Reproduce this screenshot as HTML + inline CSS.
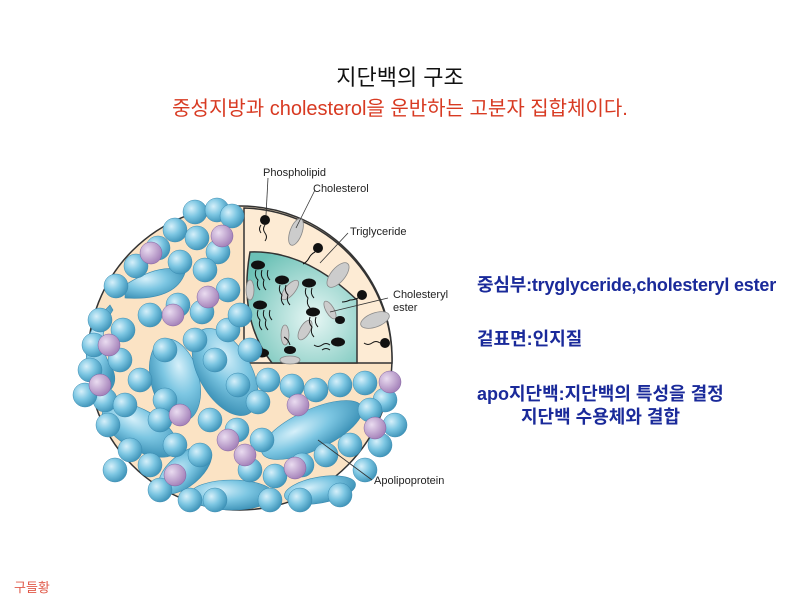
<!DOCTYPE html>
<html><head><meta charset="utf-8"><style>
body{margin:0;width:800px;height:600px;background:#fff;position:relative;overflow:hidden;font-family:"Liberation Sans","Noto Sans CJK KR",sans-serif}
.t{position:absolute;white-space:nowrap}
.bl circle{r:12px}
.pl circle{r:11px}
</style></head><body>
<div class="t" style="left:0;width:800px;text-align:center;top:60px;font-size:22px;color:#111">지단백의 구조</div>
<div class="t" style="left:0;width:800px;text-align:center;top:92px;font-size:20px;color:#d83a22">중성지방과 cholesterol을 운반하는 고분자 집합체이다.</div>
<div class="t" style="left:477px;top:271px;font-size:18px;font-weight:bold;color:#1a2a9a;letter-spacing:-0.2px">중심부:tryglyceride,cholesteryl ester</div>
<div class="t" style="left:477px;top:325px;font-size:18px;font-weight:bold;color:#1a2a9a">겉표면:인지질</div>
<div class="t" style="left:477px;top:380px;font-size:18px;font-weight:bold;color:#1a2a9a">apo지단백:지단백의 특성을 결정</div>
<div class="t" style="left:521px;top:403px;font-size:18px;font-weight:bold;color:#1a2a9a">지단백 수용체와 결합</div>
<div class="t" style="left:14px;top:577px;font-size:13px;color:#e05a4a">구들황</div>
<svg width="800" height="600" style="position:absolute;left:0;top:0">
<defs>
<radialGradient id="b" cx="0.35" cy="0.35" r="0.7"><stop offset="0" stop-color="#d6f0fa"/><stop offset="0.5" stop-color="#7cc6e2"/><stop offset="1" stop-color="#3e93b8"/></radialGradient>
<radialGradient id="p" cx="0.35" cy="0.35" r="0.7"><stop offset="0" stop-color="#eadcf0"/><stop offset="1" stop-color="#a27fb8"/></radialGradient>
<radialGradient id="c" cx="0.6" cy="0.6" r="0.7"><stop offset="0" stop-color="#e8f7f5"/><stop offset="1" stop-color="#6cc1b6"/></radialGradient>
</defs>
<circle cx="240" cy="358" r="152" fill="#fbe3c4" stroke="#333" stroke-width="1.5"/>
<path d="M244,208 L244,363 L392,363 A152,152 0 0 0 244,208 Z" fill="#fdebd4" stroke="#333" stroke-width="1.5"/>
<path d="M250,252 Q305,250 357,300 L357,363 L272,363 Q238,320 250,252 Z" fill="url(#c)" stroke="#333" stroke-width="1.5"/>
<g fill="#ccc" stroke="#888" stroke-width="0.8">
<ellipse cx="296" cy="232" rx="6" ry="14" transform="rotate(20 296 232)"/>
<ellipse cx="338" cy="275" rx="7" ry="15" transform="rotate(40 338 275)"/>
<ellipse cx="375" cy="320" rx="7" ry="15" transform="rotate(70 375 320)"/>
<ellipse cx="290" cy="290" rx="5" ry="12" transform="rotate(40 290 290)"/>
<ellipse cx="250" cy="290" rx="4" ry="10"/>
<ellipse cx="305" cy="330" rx="5" ry="11" transform="rotate(30 305 330)"/>
<ellipse cx="330" cy="310" rx="4" ry="10" transform="rotate(-30 330 310)"/>
<ellipse cx="285" cy="335" rx="4" ry="10"/>
<ellipse cx="290" cy="360" rx="10" ry="4"/>
</g>
<g fill="#111">
<circle cx="265" cy="220" r="5"/><circle cx="318" cy="248" r="5"/><circle cx="362" cy="295" r="5"/><circle cx="385" cy="343" r="5"/>
<ellipse cx="258" cy="265" rx="7" ry="4.5"/><ellipse cx="282" cy="280" rx="7" ry="4.5"/><ellipse cx="309" cy="283" rx="7" ry="4.5"/>
<ellipse cx="260" cy="305" rx="7" ry="4.5"/><ellipse cx="313" cy="312" rx="7" ry="4.5"/><ellipse cx="338" cy="342" rx="7" ry="4.5"/>
<ellipse cx="290" cy="350" rx="6" ry="4"/><ellipse cx="262" cy="353" rx="7" ry="4.5"/><ellipse cx="340" cy="320" rx="5" ry="4"/>
</g>
<g stroke="#111" stroke-width="1" fill="none">
<path d="M265,225 q-3,4 0,8 q3,4 0,8 M261,225 q-3,4 0,8"/><path d="M315,252 q-4,2 -6,6 q-2,4 -6,6"/><path d="M358,298 q-4,2 -8,2 q-4,2 -8,2"/><path d="M380,343 q-4,-3 -8,0 q-4,3 -8,0"/>
<path d="M256,270 q-2,6 2,10 q-2,6 2,10 M262,270 q-2,6 2,10 q-2,6 2,10 M268,270 q-2,6 2,10"/>
<path d="M280,285 q-2,6 2,10 q-2,6 2,10 M286,285 q-2,6 2,10 q-2,6 2,10"/>
<path d="M306,288 q-2,6 2,10 q-2,6 2,10 M312,288 q-2,6 2,10"/><path d="M258,310 q-2,6 2,10 q-2,6 2,10 M264,310 q-2,6 2,10 q-2,6 2,10 M270,310 q-2,6 2,10"/>
<path d="M310,317 q-2,6 2,10 q-2,6 2,10 M316,317 q-2,6 2,10"/><path d="M330,345 q-4,-3 -8,0 q-4,3 -8,0 M330,350 q-4,-3 -8,0"/>
<path d="M258,345 q-4,-3 -8,0 M290,345 q-2,-6 -6,-8"/>
</g>
<g fill="url(#b)" stroke="#3a8ab0" stroke-width="0.6">
<path d="M125,285 q40,-25 60,-12 q-10,28 -60,25 z"/>
<path d="M110,305 q-45,45 -5,90 q14,-10 8,-25 q-20,-30 0,-60 z" />
<ellipse cx="175" cy="380" rx="42" ry="24" transform="rotate(75 175 380)"/>
<ellipse cx="225" cy="372" rx="48" ry="26" transform="rotate(60 225 372)"/>
<ellipse cx="140" cy="430" rx="42" ry="20" transform="rotate(30 140 430)"/>
<ellipse cx="312" cy="430" rx="55" ry="20" transform="rotate(-25 312 430)"/>
<ellipse cx="185" cy="470" rx="32" ry="16" transform="rotate(-40 185 470)"/>
<ellipse cx="232" cy="495" rx="42" ry="15"/>
<ellipse cx="320" cy="490" rx="36" ry="13" transform="rotate(-10 320 490)"/>
</g>
<g class="bl" fill="url(#b)" stroke="#3a8ab0" stroke-width="0.5">
<circle cx="195" cy="212" r="10"/><circle cx="217" cy="210" r="10"/><circle cx="232" cy="216" r="10"/><circle cx="175" cy="230" r="10"/>
<circle cx="197" cy="238" r="10"/><circle cx="218" cy="252" r="10"/><circle cx="158" cy="248" r="10"/><circle cx="136" cy="266" r="10"/>
<circle cx="116" cy="286" r="10"/><circle cx="180" cy="262" r="10"/><circle cx="205" cy="270" r="10"/><circle cx="228" cy="290" r="10"/>
<circle cx="150" cy="315" r="10"/><circle cx="178" cy="305" r="10"/><circle cx="202" cy="312" r="10"/><circle cx="100" cy="320" r="10"/>
<circle cx="123" cy="330" r="10"/><circle cx="94" cy="345" r="10"/><circle cx="90" cy="370" r="10"/><circle cx="120" cy="360" r="10"/>
<circle cx="228" cy="330" r="10"/><circle cx="215" cy="360" r="10"/><circle cx="165" cy="350" r="10"/><circle cx="105" cy="400" r="10"/>
<circle cx="125" cy="405" r="10"/><circle cx="108" cy="425" r="10"/><circle cx="165" cy="400" r="10"/><circle cx="160" cy="420" r="10"/>
<circle cx="238" cy="385" r="10"/><circle cx="258" cy="402" r="10"/><circle cx="268" cy="380" r="10"/><circle cx="292" cy="386" r="10"/>
<circle cx="316" cy="390" r="10"/><circle cx="340" cy="385" r="10"/><circle cx="365" cy="383" r="10"/><circle cx="385" cy="400" r="10"/>
<circle cx="370" cy="410" r="10"/><circle cx="210" cy="420" r="10"/><circle cx="237" cy="430" r="10"/><circle cx="262" cy="440" r="10"/>
<circle cx="130" cy="450" r="10"/><circle cx="150" cy="465" r="10"/><circle cx="175" cy="445" r="10"/><circle cx="200" cy="455" r="10"/>
<circle cx="250" cy="470" r="10"/><circle cx="275" cy="476" r="10"/><circle cx="302" cy="465" r="10"/><circle cx="326" cy="455" r="10"/>
<circle cx="350" cy="445" r="10"/><circle cx="365" cy="470" r="10"/><circle cx="160" cy="490" r="10"/><circle cx="215" cy="500" r="10"/>
<circle cx="300" cy="500" r="10"/><circle cx="340" cy="495" r="10"/><circle cx="250" cy="350" r="10"/><circle cx="140" cy="380" r="10"/>
<circle cx="195" cy="340" r="10"/><circle cx="85" cy="395" r="9"/><circle cx="395" cy="425" r="9"/><circle cx="240" cy="315" r="10"/>
<circle cx="270" cy="500" r="10"/><circle cx="190" cy="500" r="10"/><circle cx="115" cy="470" r="10"/><circle cx="380" cy="445" r="10"/>
</g>
<g class="pl" fill="url(#p)" stroke="#8060a0" stroke-width="0.5">
<circle cx="222" cy="236" r="10"/><circle cx="151" cy="253" r="10"/><circle cx="208" cy="297" r="10"/><circle cx="173" cy="315" r="10"/>
<circle cx="109" cy="345" r="10"/><circle cx="100" cy="385" r="10"/><circle cx="180" cy="415" r="10"/><circle cx="298" cy="405" r="10"/>
<circle cx="390" cy="382" r="10"/><circle cx="375" cy="428" r="10"/><circle cx="228" cy="440" r="10"/><circle cx="245" cy="455" r="10"/>
<circle cx="295" cy="468" r="10"/><circle cx="175" cy="475" r="10"/>
</g>
<g stroke="#333" stroke-width="0.8" fill="none">
<line x1="268" y1="178" x2="266" y2="215"/><line x1="315" y1="190" x2="296" y2="228"/><line x1="348" y1="233" x2="320" y2="263"/>
<line x1="388" y1="298" x2="330" y2="312"/><line x1="318" y1="440" x2="372" y2="480"/>
</g>
<g font-family="Liberation Sans,sans-serif" font-size="11" fill="#222">
<text x="263" y="176">Phospholipid</text><text x="313" y="192">Cholesterol</text><text x="350" y="235">Triglyceride</text>
<text x="393" y="298">Cholesteryl</text><text x="393" y="311">ester</text><text x="374" y="484">Apolipoprotein</text>
</g>
</svg>
</body></html>
